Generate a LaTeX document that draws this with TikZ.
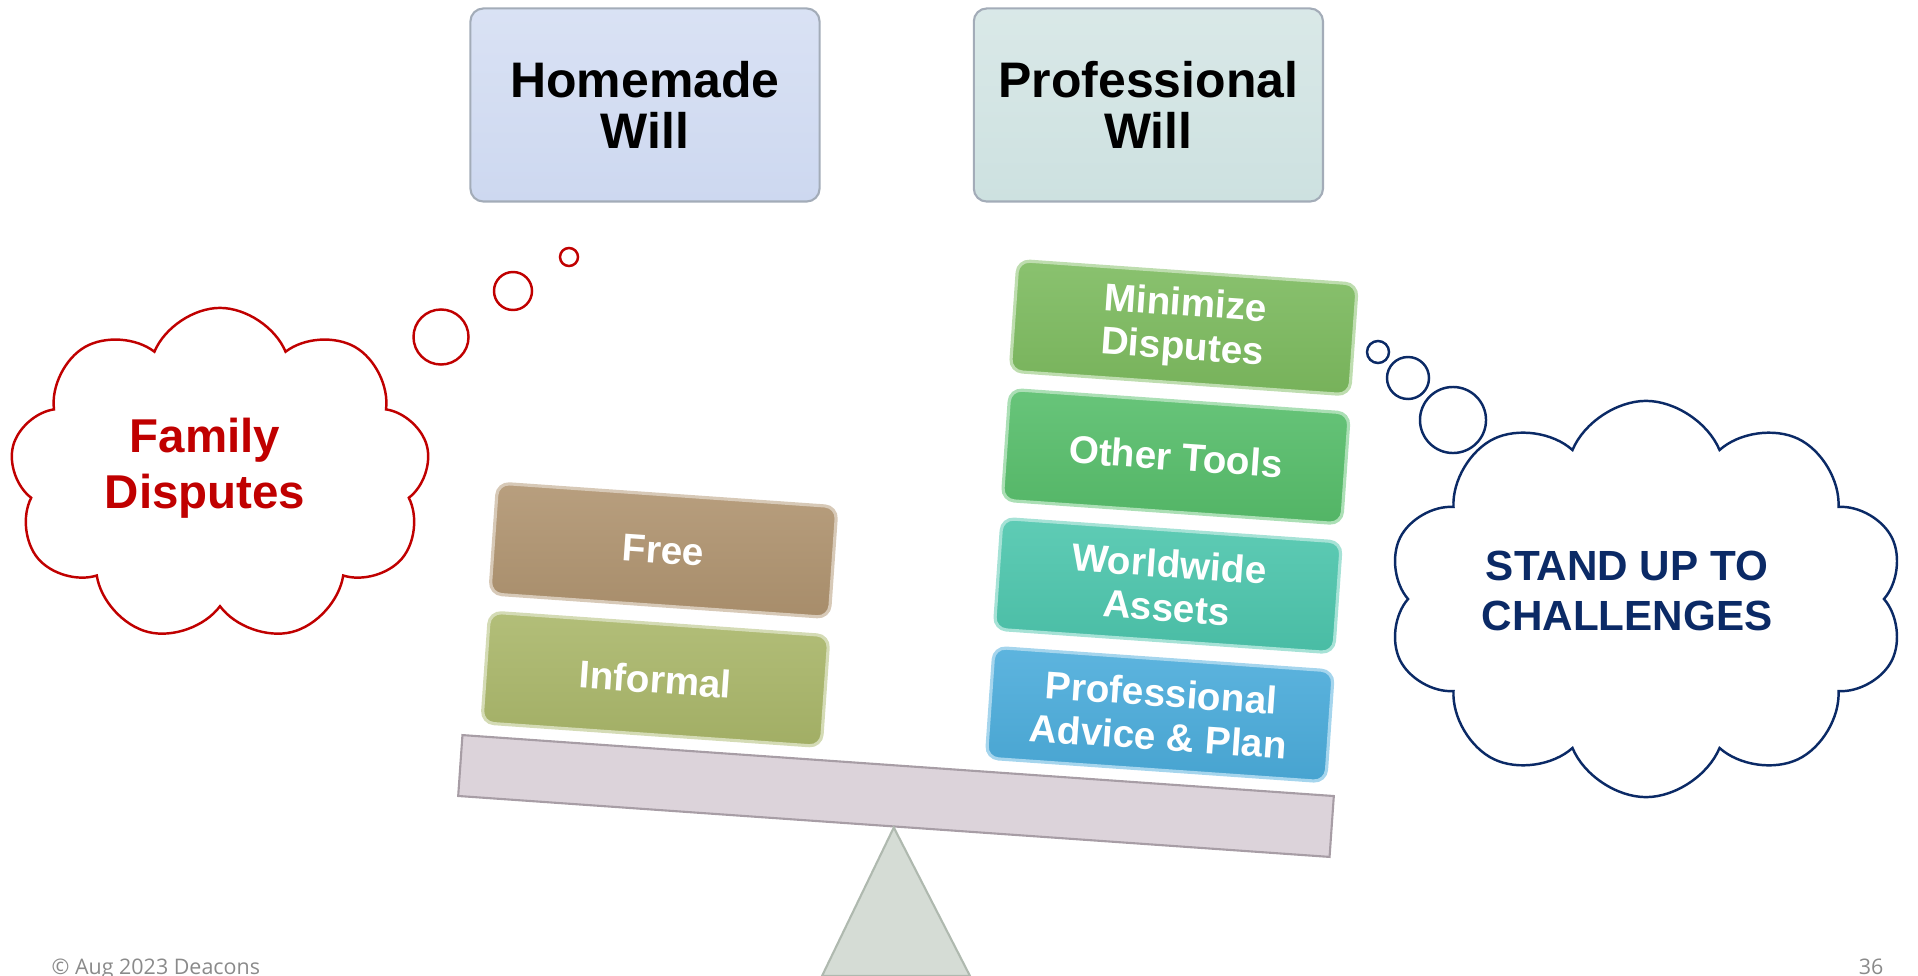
\documentclass[tikz,border=0pt]{standalone}
\usepackage{fontspec}
\setmainfont{Liberation Sans}
\newfontfamily\footfont{Open Sans}
\usepackage{xcolor}
\usetikzlibrary{positioning,shapes.symbols,calc}
\definecolor{homeblue}{HTML}{CDD8F0}
\definecolor{profteal}{HTML}{CDE1E0}
\definecolor{boxgray}{HTML}{A3ACB8}
\definecolor{beamfill}{HTML}{DCD3DA}
\definecolor{beamline}{HTML}{A79DA5}
\definecolor{fulcfill}{HTML}{D5DCD5}
\definecolor{fulcline}{HTML}{AFB9AF}
\definecolor{freebrown}{HTML}{B09470}
\definecolor{informalgreen}{HTML}{AAB76A}
\definecolor{minimizegreen}{HTML}{7DBB5F}
\definecolor{toolsgreen}{HTML}{57BE6B}
\definecolor{worldteal}{HTML}{4DC6AD}
\definecolor{adviceblue}{HTML}{4BACDB}
\definecolor{famred}{HTML}{C00000}
\definecolor{standnavy}{HTML}{0B2A66}
\definecolor{footgray}{HTML}{8A8A8A}
\tikzset{blockcol/.style={top color=#1!90!white, bottom color=#1!95!black, draw=#1!50!white}}

\begin{document}
\begin{tikzpicture}[x=0.01cm, y=-0.01cm]
    \tikzstyle{title} = [rectangle, rounded corners=0.13cm, minimum width=3.49cm, minimum height=1.93cm, align=center, draw=boxgray, line width=0.6pt, font=\fontsize{14.2}{14.6}\selectfont\bfseries]
    \tikzstyle{block} = [rectangle, rounded corners=0.12cm, minimum width=3.4cm, minimum height=1.11cm, align=center, rotate=-4, line width=0.9pt, text=white, font=\fontsize{11}{12.4}\selectfont\bfseries]
    \tikzstyle{beam} = [rectangle, minimum width=8.73cm, minimum height=0.61cm, inner sep=0pt, rotate=-4, draw=beamline, fill=beamfill, line width=0.6pt]
    \tikzstyle{thought} = [cloud, cloud puffs=9, cloud puff arc=135, cloud ignores aspect, line width=0.7pt]
    \tikzstyle{bubble} = [circle, inner sep=0pt, line width=0.7pt]
    \useasboundingbox (0,0) rectangle (1918,976);

    % Titles
    \node [title, top color=homeblue!75!white, bottom color=homeblue] (homemade) at (645,105) {Homemade\\Will};
    \node [title, top color=profteal!75!white, bottom color=profteal, right=1.52cm of homemade] (professional) {Professional\\Will};

    % Seesaw
    \node [beam] (beam) at (896,796) {};
    \draw [fill=fulcfill, draw=fulcline, line width=0.6pt] (beam.south) -- (970,976) -- (822,976) -- cycle;
    \coordinate (lseat) at ($(beam.north west)!0.2175!(beam.north east)$);
    \coordinate (rseat) at ($(beam.north west)!0.795!(beam.north east)$);

    % Homemade side
    \node [block, blockcol=informalgreen, above=0.11cm of lseat] (informal) {Informal};
    \node [block, blockcol=freebrown, above=0.15cm of informal] (free) {Free};

    % Professional side
    \node [block, blockcol=adviceblue, above=0.11cm of rseat] (advice) {Professional\\Advice \& Plan};
    \node [block, blockcol=worldteal, above=0.15cm of advice] (worldwide) {Worldwide\\Assets};
    \node [block, blockcol=toolsgreen, above=0.15cm of worldwide] (tools) {Other Tools};
    \node [block, blockcol=minimizegreen, above=0.15cm of tools] (minimize) {Minimize\\Disputes};

    % Thought clouds
    \node [thought, draw=famred, minimum width=4.2cm, minimum height=3.34cm] (famcloud) at (220,475) {};
    \node [align=center, text=famred, font=\fontsize{13.5}{16}\selectfont\bfseries] (famtext) at ($(famcloud.center)+(-15,-7)$) {Family\\Disputes};
    \node [bubble, draw=famred, minimum size=0.55cm] (fbig) at (441,337) {};
    \node [bubble, draw=famred, minimum size=0.38cm] (fmid) at (513,291) {};
    \node [bubble, draw=famred, minimum size=0.18cm] (fsmall) at (569,257) {};

    \node [thought, cloud puffs=10, draw=standnavy, minimum width=5.17cm, minimum height=3.96cm] (standcloud) at (1646,599) {};
    \node [align=center, text=standnavy, font=\fontsize{12}{14.3}\selectfont\bfseries] (standtext) at ($(standcloud.center)+(-19,-8)$) {STAND UP TO\\CHALLENGES};
    \node [bubble, draw=standnavy, minimum size=0.22cm] (ssmall) at (1378,352) {};
    \node [bubble, draw=standnavy, minimum size=0.42cm] (smid) at (1408,378) {};
    \node [bubble, draw=standnavy, minimum size=0.66cm] (sbig) at (1453,420) {};

    % Footer
    \node [anchor=base west, inner sep=0pt, text=footgray, font=\footfont\fontsize{6.1}{7}\selectfont] (footer) at (51,974) {© Aug 2023 Deacons};
    \node [anchor=base east, inner sep=0pt, text=footgray, font=\footfont\fontsize{6.1}{7}\selectfont] (pagenum) at (1884,974) {36};
\end{tikzpicture}
\end{document}
